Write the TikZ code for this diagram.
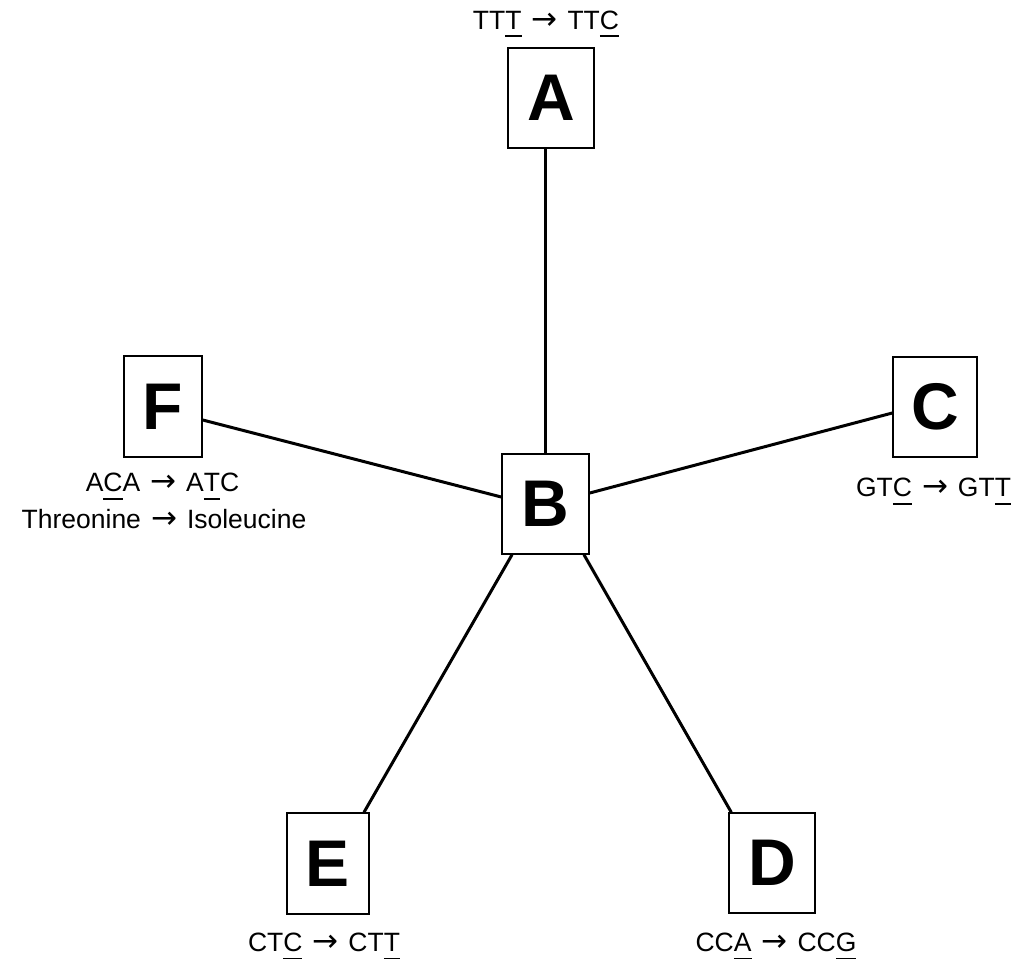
\documentclass[tikz,border=0pt]{standalone}
\usepackage{fontspec}
\setmainfont{Liberation Sans}
\newfontfamily\arrowfont{DejaVu Sans}
\usetikzlibrary{calc}

% underlined letter marking the changed base
\newcommand\ulbase[1]{\setbox0\hbox{#1}\rlap{\rule[-8pt]{\wd0}{2pt}}\box0}
% arrow between the two codons
\newcommand\arr{\hspace{0.1em}{\arrowfont\fontsize{31}{31}\selectfont →}\hspace{0.1em}}

\begin{document}
\begin{tikzpicture}[x=1pt,y=-1pt,
  taxon/.style={draw,line width=1.5pt,fill=white,inner sep=0pt,
    font=\fontsize{66}{66}\selectfont\bfseries},
  edge/.style={line width=3pt},
  mut/.style={anchor=base,inner sep=0pt,font=\fontsize{26.5}{30}\selectfont}]
\useasboundingbox (0,0) rectangle (1014,958);

% taxa
\node[taxon,minimum width=86pt,minimum height=100pt] (A) at (551,98) {A};
\node[taxon,minimum width=87pt,minimum height=100pt] (B) at (545.5,504) {B};
\node[taxon,minimum width=84pt,minimum height=100pt] (C) at (935,407) {C};
\node[taxon,minimum width=86pt,minimum height=100pt] (D) at (772,863) {D};
\node[taxon,minimum width=82pt,minimum height=101pt] (E) at (328,863.5) {E};
\node[taxon,minimum width=78pt,minimum height=101pt] (F) at (163,406.5) {F};

% branches from the central taxon
\draw[edge] (B.north) -- (B.north |- A.south);
\draw[edge] ([yshift=-13.5pt]F.east) -- ([yshift=7pt]B.west);
\draw[edge] ([yshift=-6pt]C.west) -- ([yshift=11pt]B.east);
\draw[edge] ([xshift=36pt]E.north) -- ([xshift=-33.5pt]B.south);
\draw[edge] ([xshift=3pt]D.north west) -- ([xshift=38.5pt]B.south);

% mutations
\node[mut] (mA) at (546,29.3) {TT\ulbase{T}\ \arr\ TT\ulbase{C}};
\node[mut] (mC) at (933.5,496.5) {GT\ulbase{C}\ \arr\ GT\ulbase{T}};
\node[mut] (mD) at (776,951.5) {CC\ulbase{A}\ \arr\ CC\ulbase{G}};
\node[mut] (mE) at (324,951.5) {CT\ulbase{C}\ \arr\ CT\ulbase{T}};
\node[mut] (mF) at (162.5,491.7) {A\ulbase{C}A\ \arr\ A\ulbase{T}C};
\node[mut] (aF) at (164,528.3) {Threonine\ \arr\ Isoleucine};
\end{tikzpicture}
\end{document}
